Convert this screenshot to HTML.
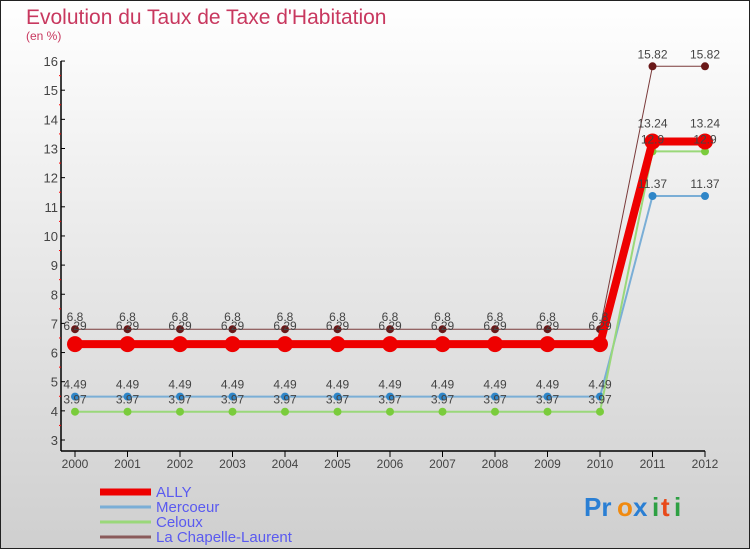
<!DOCTYPE html>
<html><head><meta charset="utf-8"><style>
body{margin:0;}
#wrap{width:750px;height:550px;position:relative;overflow:hidden;}
svg text{font-family:"Liberation Sans",sans-serif;}
</style></head><body>
<div id="wrap">
<svg id="chart" width="750" height="550" xmlns="http://www.w3.org/2000/svg">
<defs><linearGradient id="bg" x1="0" y1="0" x2="0" y2="1"><stop offset="0" stop-color="#ffffff"/><stop offset="1" stop-color="#cfcfcf"/></linearGradient></defs>
<rect x="0.5" y="0.5" width="749" height="548" fill="url(#bg)" stroke="#222"/>
<text x="26" y="24" font-size="21" fill="#c8385f">Evolution du Taux de Taxe d'Habitation</text>
<text x="26" y="40" font-size="12" fill="#c8385f">(en %)</text>
<g id="axes"></g><g id="series"></g><g id="legend"></g>
<g font-size="26" font-weight="bold">
<text x="584" y="516" fill="#2a7fd4">Pr</text><text x="617" y="516" fill="#f08a10">o</text><text x="633" y="516" fill="#2a7fd4">x</text><text x="652" y="516" fill="#2ea043">i</text><text x="661" y="516" fill="#e84a1a">t</text><text x="674" y="516" fill="#2ea043">i</text>
</g>
</svg></div>
<script>
const years=[2000,2001,2002,2003,2004,2005,2006,2007,2008,2009,2010,2011,2012];
const ally=[6.29,6.29,6.29,6.29,6.29,6.29,6.29,6.29,6.29,6.29,6.29,13.24,13.24];
const mercoeur=[4.49,4.49,4.49,4.49,4.49,4.49,4.49,4.49,4.49,4.49,4.49,11.37,11.37];
const celoux=[3.97,3.97,3.97,3.97,3.97,3.97,3.97,3.97,3.97,3.97,3.97,12.9,12.9];
const chapelle=[6.8,6.8,6.8,6.8,6.8,6.8,6.8,6.8,6.8,6.8,6.8,15.82,15.82];
const yTicks=[3,4,5,6,7,8,9,10,11,12,13,14,15,16];
const NS="http://www.w3.org/2000/svg";
function X(i){return 75+i*52.5;}
function Y(v){return 440-(v-3)*29.15;}
function mk(tag,attrs,parent){const e=document.createElementNS(NS,tag);for(const k in attrs)e.setAttribute(k,attrs[k]);parent.appendChild(e);return e;}
const axes=document.getElementById('axes');
let e=mk('line',{x1:61,y1:Y(16),x2:61,y2:451,stroke:'#000','stroke-width':1.5},axes);


e=mk('line',{x1:61,y1:451,x2:X(12),y2:451,stroke:'#000','stroke-width':1.5},axes);


yTicks.forEach(v=>{
  mk('line',{x1:61,y1:Y(v),x2:65,y2:Y(v),stroke:'#000'},axes);
  if(v<16) mk('line',{x1:59,y1:Y(v+0.5),x2:61,y2:Y(v+0.5),stroke:'#f00'},axes);
  const t=mk('text',{x:58,y:Y(v)+5,'font-size':13,fill:'#444','text-anchor':'end'},axes);
  t.textContent=v;
  
  
});
years.forEach((yr,i)=>{
  mk('line',{x1:X(i),y1:451,x2:X(i),y2:457,stroke:'#000'},axes);
  const t=mk('text',{x:X(i),y:468,'font-size':12,fill:'#444','text-anchor':'middle'},axes);
  t.textContent=yr;
  
  
});
const ser=document.getElementById('series');
const defs=[
 {name:'mercoeur',data:mercoeur,color:'#7aaed6',dot:'#2f86c8',w:2,r:4},
 {name:'celoux',data:celoux,color:'#9ad87a',dot:'#7acc3c',w:2,r:4},
 {name:'chapelle',data:chapelle,color:'#7a3a3a',dot:'#6a1818',w:1,r:4},
 {name:'ally',data:ally,color:'#ee0000',dot:'#ee0000',w:8,r:8}];
defs.forEach(s=>{
  const g=mk('g',{},ser);
  
  
  const p=mk('polyline',{points:s.data.map((v,i)=>X(i)+','+Y(v)).join(' '),fill:'none',stroke:s.color,'stroke-width':s.w},g);
  
  
  s.data.forEach((v,i)=>{
    const c=mk('circle',{cx:X(i),cy:Y(v),r:s.r,fill:s.dot},g);
    
    
  });
});
defs.forEach(s=>{
  s.data.forEach((v,i)=>{
    const t=mk('text',{x:X(i),y:Y(v)-(s.name==='ally'?14:8),'font-size':12,fill:'#444','text-anchor':'middle'},ser);
    t.textContent=v;
    
    
  });
});
const leg=document.getElementById('legend');
const names=['ALLY','Mercoeur','Celoux','La Chapelle-Laurent'];
const cols=['#ee0000','#7aaed6','#9ad87a','#8a5a5a'];
const ws=[7,3,3,3];
names.forEach((n,k)=>{
  const y=[492,507,522,537][k];
  const g=mk('g',{},leg);
  
  
  mk('line',{x1:100,y1:y,x2:151,y2:y,stroke:cols[k],'stroke-width':ws[k]},g);
  const t=mk('text',{x:156,y:y+5,'font-size':15,fill:'#5a5af0'},g);
  t.textContent=n;
});
</script>
</body></html>
